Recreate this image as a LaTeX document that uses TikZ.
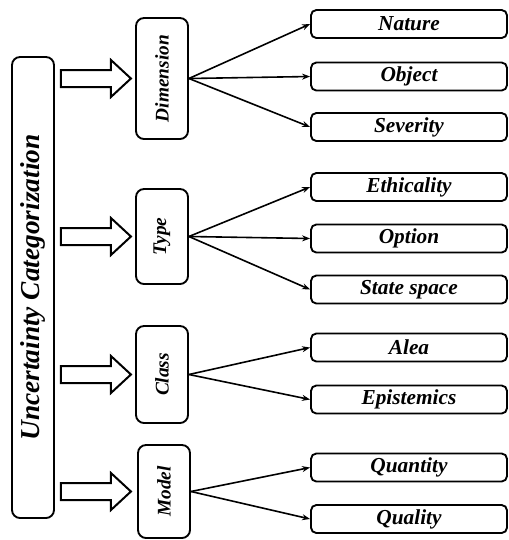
\documentclass[tikz,border=0pt]{standalone}
\usepackage{fontspec}
\setmainfont{Liberation Serif}[BoldItalicFont={Liberation Serif Bold Italic}]
\usetikzlibrary{arrows.meta}

\tikzset{
  leaf/.style={draw, line width=1.4pt, rounded corners=4pt, minimum width=147pt,
    minimum height=21pt, inner sep=0pt, font=\fontsize{16}{18}\selectfont\bfseries\itshape},
  group/.style={draw, line width=1.4pt, rounded corners=6pt, minimum width=39pt,
    inner sep=0pt, font=\fontsize{14.5}{16}\selectfont\bfseries\itshape},
  fan/.style={-{Stealth[length=6pt,width=4.5pt]}, line width=1.2pt},
  blockarrow/.style={draw, line width=1.5pt, line join=miter}
}
\newcommand{\bigarrow}[1]{%
  \draw[blockarrow] ([xshift=4.5pt]main.east |- #1.west) ++(0,-8.5) -- ++(50,0) -- ++(0,-10)
    -- ++(20,18.5) -- ++(-20,18.5) -- ++(0,-10) -- ++(-50,0) -- cycle;}

\begin{document}
\begin{tikzpicture}[x=0.75pt, y=-0.75pt]
\useasboundingbox (0,0) rectangle (508,540);
 % main box
  \node (main) at (33,287.5) [draw, line width=1.4pt, rounded corners=6pt, minimum width=31.5pt,
    minimum height=345.75pt, inner sep=0pt, font=\fontsize{20.5}{22}\selectfont\bfseries\itshape]
    {\rotatebox{90}{Uncertainty Categorization}};
 % groups
  \node (dim)   at (162,78.5)  [group, minimum height=90.75pt] {\rotatebox{90}{Dimension}};
  \node (type)  at (162,236.5) [group, minimum height=71.25pt] {\rotatebox{90}{Type}};
  \node (cls)   at (162,374.5) [group, minimum height=72.75pt] {\rotatebox{90}{Class}};
  \node (model) at (164,491.5) [group, minimum height=69.75pt] {\rotatebox{90}{Model}};
 % leaves
  \node (nature) at (409,24)    [leaf] {Nature};
  \node (object) at (409,76.5)  [leaf] {Object};
  \node (sever)  at (409,127)   [leaf] {Severity};
  \node (ethic)  at (409,187)   [leaf] {Ethicality};
  \node (option) at (409,238.5) [leaf] {Option};
  \node (state)  at (409,289.5) [leaf] {State space};
  \node (alea)   at (409,347.5) [leaf] {Alea};
  \node (epist)  at (409,399.5) [leaf] {Epistemics};
  \node (quant)  at (409,467.5) [leaf] {Quantity};
  \node (qual)   at (409,519)   [leaf] {Quality};
 % block arrows
  \bigarrow{dim}
  \bigarrow{type}
  \bigarrow{cls}
  \bigarrow{model}
 % fans
  \draw[fan] (dim.east) -- (nature.west);
  \draw[fan] (dim.east) -- (object.west);
  \draw[fan] (dim.east) -- (sever.west);
  \draw[fan] (type.east) -- (ethic.west);
  \draw[fan] (type.east) -- (option.west);
  \draw[fan] (type.east) -- (state.west);
  \draw[fan] (cls.east) -- (alea.west);
  \draw[fan] (cls.east) -- (epist.west);
  \draw[fan] (model.east) -- (quant.west);
  \draw[fan] (model.east) -- (qual.west);
\end{tikzpicture}
\end{document}
